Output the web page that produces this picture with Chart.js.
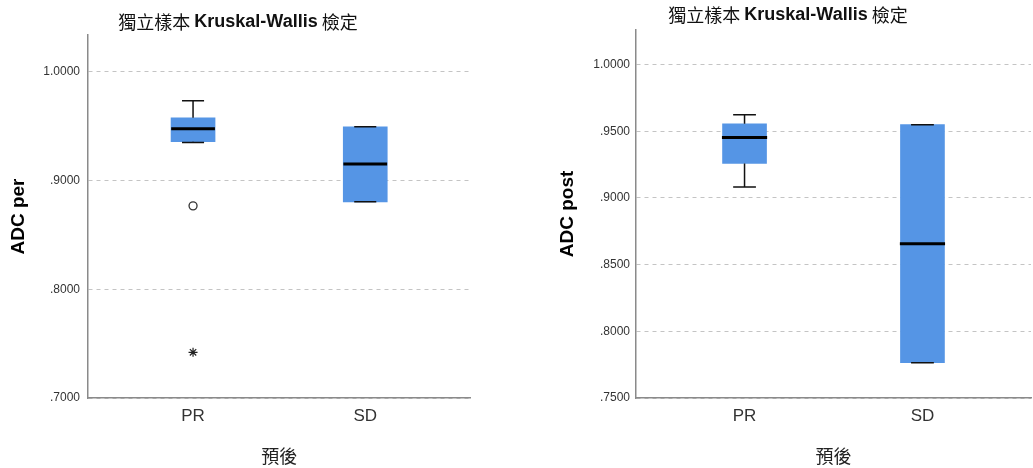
<!DOCTYPE html>
<html>
<head>
<meta charset="utf-8">
<script src="https://cdn.jsdelivr.net/npm/chart.js@4.4.1/dist/chart.umd.min.js"></script>
<style>
  body { margin: 0; background: #fff; }
  canvas { position: absolute; top: 0; }
  #perChart { left: 0; }
  #postChart { left: 543px; }
</style>
</head>
<body>
<canvas id="perChart" width="476" height="468"></canvas>
<canvas id="postChart" width="490" height="468"></canvas>
<script>
const categories = ['PR', 'SD'];

// ADC per (pre-treatment)
const perMin = [0.9350, 0.8805];
const perQ1 = [0.9358, 0.8805];
const perMedian = [0.9477, 0.9153];
const perQ3 = [0.9578, 0.9495];
const perMax = [0.9734, 0.9495];
const perOutliers = [0.8768, null];
const perExtremes = [0.7420, null];
const perTickValues = [0.7, 0.8, 0.9, 1.0];
const perTickLabels = ['.7000', '.8000', '.9000', '1.0000'];

// ADC post
const postMin = [0.9082, 0.7765];
const postQ1 = [0.9259, 0.7765];
const postMedian = [0.9454, 0.8656];
const postQ3 = [0.9557, 0.9550];
const postMax = [0.9625, 0.9550];
const postOutliers = [null, null];
const postExtremes = [null, null];
const postTickValues = [0.75, 0.80, 0.85, 0.90, 0.95, 1.00];
const postTickLabels = ['.7500', '.8000', '.8500', '.9000', '.9500', '1.0000'];

const BOX_BLUE = '#5595e5';
const BOX_HALF = 0.127;   // half box width in x units
const CAP_HALF = 0.064;

const titleParts = [
  { text: '獨立樣本 ', font: '18px "Noto Sans CJK TC"' },
  { text: 'Kruskal-Wallis', font: 'bold 18px "Liberation Sans"' },
  { text: ' 檢定', font: '18px "Noto Sans CJK TC"' }
];

// title with mixed weights, centred on the canvas
const splitTitle = {
  id: 'splitTitle',
  afterDraw(chart, args, opts) {
    const ctx = chart.ctx;
    ctx.save();
    ctx.textBaseline = 'middle';
    ctx.fillStyle = '#111';
    const widths = titleParts.map(p => { ctx.font = p.font; return ctx.measureText(p.text).width; });
    const total = widths.reduce((a, b) => a + b, 0);
    let x = chart.width / 2 - total / 2;
    titleParts.forEach((p, i) => {
      ctx.font = p.font;
      ctx.fillText(p.text, x, opts.y);
      x += widths[i];
    });
    ctx.restore();
  }
};

function segments(pairs) {
  const out = [];
  pairs.forEach(([a, b]) => { out.push(a, b, { x: a.x, y: null }); });
  return out;
}

function boxDatasets(min, q1, med, q3, max, outliers, extremes) {
  const xs = categories.map((c, i) => i + 1);
  const whiskers = [], caps = [], medians = [];
  xs.forEach((x, i) => {
    whiskers.push([{ x, y: q3[i] }, { x, y: max[i] }], [{ x, y: q1[i] }, { x, y: min[i] }]);
    caps.push([{ x: x - CAP_HALF, y: max[i] }, { x: x + CAP_HALF, y: max[i] }],
              [{ x: x - CAP_HALF, y: min[i] }, { x: x + CAP_HALF, y: min[i] }]);
    medians.push([{ x: x - BOX_HALF, y: med[i] }, { x: x + BOX_HALF, y: med[i] }]);
  });
  const line = { type: 'line', pointRadius: 0, fill: false, spanGaps: false, borderCapStyle: 'butt' };
  return [
    {
      type: 'bar', order: 5,
      data: xs.map((x, i) => ({ x, y: [q1[i], q3[i]] })),
      backgroundColor: BOX_BLUE, borderWidth: 0, barThickness: 44
    },
    { ...line, order: 4, data: segments(whiskers), borderColor: '#111', borderWidth: 1.5 },
    { ...line, order: 3, data: segments(caps), borderColor: '#111', borderWidth: 1.5 },
    { ...line, order: 2, data: segments(medians), borderColor: '#000', borderWidth: 3 },
    {
      type: 'scatter', order: 1,
      data: xs.map((x, i) => ({ x, y: outliers[i] })).filter(p => p.y !== null),
      pointStyle: 'circle', pointRadius: 4, backgroundColor: '#fff',
      borderColor: '#333', borderWidth: 1.3
    },
    {
      type: 'scatter', order: 1,
      data: xs.map((x, i) => ({ x, y: extremes[i] })).filter(p => p.y !== null),
      pointStyle: 'star', pointRadius: 4.5, borderColor: '#222', borderWidth: 1.2
    }
  ];
}

function makeChart(id, cfg) {
  return new Chart(document.getElementById(id), {
    type: 'bar',
    data: { datasets: cfg.datasets },
    plugins: [splitTitle],
    options: {
      responsive: false,
      animation: false,
      events: [],
      layout: { padding: { top: cfg.top, right: cfg.right, left: 0, bottom: 0 } },
      plugins: {
        legend: { display: false },
        tooltip: { enabled: false },
        splitTitle: { y: cfg.titleY }
      },
      scales: {
        x: {
          type: 'linear',
          offset: false,
          min: 0.39,
          max: 2.61,
          afterBuildTicks: s => { s.ticks = categories.map((c, i) => ({ value: i + 1 })); },
          afterFit: s => { s.height = 70; },
          ticks: {
            callback: (v, i) => categories[i],
            padding: 8,
            maxRotation: 0,
            font: { family: '"Liberation Sans"', size: 17 },
            color: '#333'
          },
          grid: { display: false, drawTicks: false },
          border: { color: '#8a8a8a', width: 1.5 },
          title: {
            display: true,
            text: '預後',
            font: { family: '"Noto Sans CJK TC"', size: 18 },
            color: '#222',
            padding: { top: 0, bottom: 1 }
          }
        },
        y: {
          min: cfg.yMin,
          max: cfg.yMax,
          afterBuildTicks: s => { s.ticks = cfg.tickValues.map(v => ({ value: v })); },
          afterFit: s => { s.width = cfg.yWidth; },
          ticks: {
            autoSkip: false,
            callback: (v, i) => cfg.tickLabels[i],
            padding: cfg.tickPad,
            font: { family: '"Liberation Sans"', size: 12 },
            color: '#333'
          },
          grid: { color: '#c4c4c4', lineWidth: 1, drawTicks: false },
          border: { color: '#8a8a8a', width: 1.5, dash: [4, 4] },
          title: {
            display: true,
            text: cfg.yTitle,
            font: { family: '"Liberation Sans"', size: 19, weight: 'bold' },
            color: '#000',
            padding: { top: cfg.yTitlePad, bottom: 0 }
          }
        }
      }
    }
  });
}

makeChart('perChart', {
  datasets: boxDatasets(perMin, perQ1, perMedian, perQ3, perMax, perOutliers, perExtremes),
  top: 35, right: 4, titleY: 22,
  yMin: 0.7, yMax: 1.034,
  tickValues: perTickValues, tickLabels: perTickLabels,
  yWidth: 88, tickPad: 8, yTitle: 'ADC per', yTitlePad: 7
});

makeChart('postChart', {
  datasets: boxDatasets(postMin, postQ1, postMedian, postQ3, postMax, postOutliers, postExtremes),
  top: 30, right: 2, titleY: 15,
  yMin: 0.75, yMax: 1.026,
  tickValues: postTickValues, tickLabels: postTickLabels,
  yWidth: 93, tickPad: 6, yTitle: 'ADC post', yTitlePad: 13
});
</script>
</body>
</html>
